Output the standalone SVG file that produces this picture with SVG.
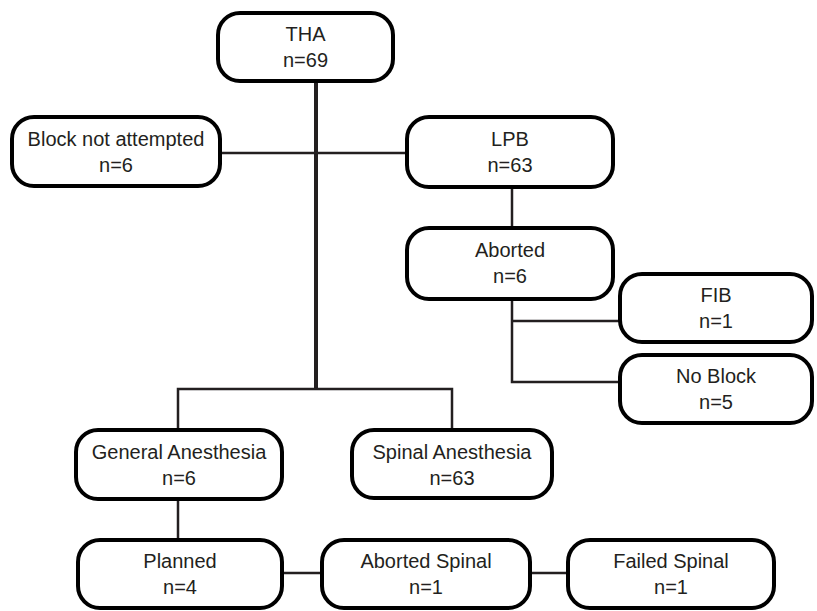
<svg xmlns="http://www.w3.org/2000/svg" width="817" height="611" viewBox="0 0 817 611">
<style>
.box{fill:#fff;stroke:#000;stroke-width:4}
.t{font-family:"Liberation Sans",Arial,sans-serif;font-size:20px;fill:#231f20;text-anchor:middle}
.c{fill:none;stroke:#231f20;stroke-width:2.5}
.trunk{fill:none;stroke:#231f20;stroke-width:4}
</style>
<rect width="817" height="611" fill="#fff"/>
<g id="connectors">
<path class="trunk" d="M316 81 V389"/>
<path class="c" d="M220 153 H407"/>
<path class="c" d="M178 430 V389 H452 V430"/>
<path class="c" d="M512 187 V228"/>
<path class="c" d="M512 299 V382 H620 M512 321 H620"/>
<path class="c" d="M178 498 V540"/>
<path class="c" d="M282 573 H322 M530 573 H568"/>
</g>
<g id="tha"><rect class="box" x="218" y="13" width="175" height="68" rx="22"/><text class="t" x="305.5" y="41">THA</text><text class="t" x="305.5" y="67">n=69</text></g>
<g id="block-not-attempted"><rect class="box" x="12" y="117" width="208" height="69" rx="22"/><text class="t" x="116" y="146">Block not attempted</text><text class="t" x="116" y="172">n=6</text></g>
<g id="lpb"><rect class="box" x="407" y="117" width="206" height="70" rx="22"/><text class="t" x="510" y="146">LPB</text><text class="t" x="510" y="172">n=63</text></g>
<g id="aborted"><rect class="box" x="407" y="228" width="206" height="71" rx="22"/><text class="t" x="510" y="257">Aborted</text><text class="t" x="510" y="283">n=6</text></g>
<g id="fib"><rect class="box" x="620" y="274" width="192" height="68" rx="22"/><text class="t" x="716" y="302">FIB</text><text class="t" x="716" y="328">n=1</text></g>
<g id="no-block"><rect class="box" x="620" y="355" width="192" height="68" rx="22"/><text class="t" x="716" y="383">No Block</text><text class="t" x="716" y="409">n=5</text></g>
<g id="general-anesthesia"><rect class="box" x="76" y="430" width="206" height="69" rx="22"/><text class="t" x="179" y="459">General Anesthesia</text><text class="t" x="179" y="485">n=6</text></g>
<g id="spinal-anesthesia"><rect class="box" x="352" y="430" width="200" height="68" rx="22"/><text class="t" x="452" y="459">Spinal Anesthesia</text><text class="t" x="452" y="485">n=63</text></g>
<g id="planned"><rect class="box" x="78" y="540" width="204" height="68" rx="22"/><text class="t" x="180" y="568">Planned</text><text class="t" x="180" y="594">n=4</text></g>
<g id="aborted-spinal"><rect class="box" x="322" y="540" width="208" height="68" rx="22"/><text class="t" x="426" y="568">Aborted Spinal</text><text class="t" x="426" y="594">n=1</text></g>
<g id="failed-spinal"><rect class="box" x="568" y="540" width="206" height="68" rx="22"/><text class="t" x="671" y="568">Failed Spinal</text><text class="t" x="671" y="594">n=1</text></g>
</svg>
